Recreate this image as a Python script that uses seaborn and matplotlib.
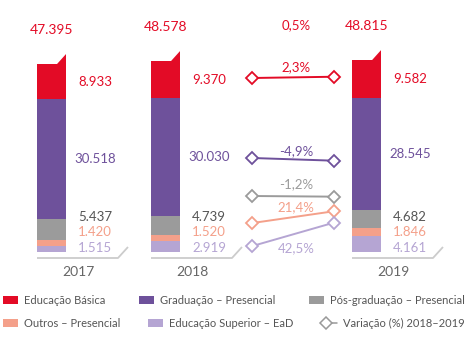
import matplotlib
matplotlib.use("Agg")
import matplotlib.pyplot as plt
import seaborn as sns
from matplotlib.patches import Patch, Polygon
from matplotlib.lines import Line2D
from matplotlib.legend_handler import HandlerBase

# data (matrículas por nível)
years = ["2017", "2018", "2019"]
basica = [8933, 9370, 9582]
graduacao = [30518, 30030, 28545]
pos_grad = [5437, 4739, 4682]
outros = [1420, 1520, 1846]
ead = [1515, 2919, 4161]
totals = [47395, 48578, 48815]
# variação 2018-2019 (%) in order basica, graduacao, pos, outros, ead
variacao = [2.3, -4.9, -1.2, 21.4, 42.5]
variacao_total = 0.5

names = ["Educação Básica", "Graduação – Presencial", "Pós-graduação – Presencial",
         "Outros – Presencial", "Educação Superior – EaD"]
colors = ["#E30B26", "#6E519B", "#9B9B9B", "#F4A08A", "#B5A5D3"]
text_colors = ["#E30B26", "#6E519B", "#555555", "#F4A08A", "#B5A5D3"]
pct_colors = ["#E30B26", "#6E519B", "#9B9B9B", "#F4A08A", "#B5A5D3"]

sns.set_theme(style="white")
plt.rcParams['font.family'] = ['Lato', 'DejaVu Sans']


def fmt(v):
    return f"{v:,}".replace(",", ".")


def fmt_pct(v):
    return f"{v:.1f}%".replace(".", ",")


# layout: pixel helpers (y=0 sits at pixel row BASE)
BASE = 252
PX = 3.93 / 1000


def py(p):
    return (BASE - p) / PX


# legend handle: diamond on the left, short line to the right
class DiamondHandler(HandlerBase):
    def create_artists(self, legend, orig_handle, xdescent, ydescent,
                       width, height, fontsize, trans):
        y = height / 2 - ydescent
        x0 = -xdescent
        c = orig_handle.get_color()
        line = Line2D([x0 + 3.5, x0 + width], [y, y], color=c, lw=1.1, transform=trans)
        mark = Line2D([x0 + 3.5], [y], marker="D", ms=6, mfc="white", mec=c,
                      mew=1.1, linestyle="none", transform=trans)
        return [line, mark]


fig = plt.figure(figsize=(4.74, 3.62), dpi=100)
ax = fig.add_axes([0, 0, 1, 1])
ax.set_xlim(0, 474)
ax.set_ylim(py(362), py(0))
ax.axis("off")

xpos = [51.5, 165.5, 366.5]
width = 29

stack = [ead, outros, pos_grad, graduacao, basica]
stack_idx = [4, 3, 2, 1, 0]
small_offsets = {4: 4, 3: 20, 2: 35}  # px above baseline for small labels

for i, x in enumerate(xpos):
    bottom = 0
    for vals, k in zip(stack, stack_idx):
        v = vals[i]
        ax.bar(x, v, width=width, bottom=bottom, color=colors[k], linewidth=0)
        if k in small_offsets:
            ly = py(BASE - small_offsets[k])
        else:
            ly = bottom + v / 2
        ax.text(x + width / 2 + 29, ly, fmt(v), color=text_colors[k],
                fontsize=9.5, ha="center", va="center")
        bottom += v
    right = x + width / 2
    ax.add_patch(Polygon([(right - 9, bottom), (right, bottom + 10 / PX), (right, bottom)],
                         closed=True, color=colors[0], linewidth=0))
    ax.text(x, bottom + 34 / PX, fmt(totals[i]), color=colors[0],
            fontsize=10, ha="center", va="center")
    left = x - width / 2
    ax.plot([left, left + 81, left + 91], [py(258), py(258), py(247)],
            color="#CCCCCC", lw=1.3, solid_capstyle="butt")
    ax.text(left + 41, py(272), years[i], color="#666666", fontsize=10,
            ha="center", va="center")

# variation lines 2018 -> 2019
row_px = [78, 158, 196, 223, 246]
label_off = [-10, -8, -12, -10, 14]
x0, x1 = 252.5, 334
for k in range(5):
    yl = row_px[k]
    yr = yl - variacao[k] * 0.55
    ax.plot([x0, x1], [py(yl), py(yr)], color=pct_colors[k], lw=1.4,
            marker="D", ms=6.5, mfc="white", mec=pct_colors[k], mew=1.3)
    ax.text(296, py((yl + yr) / 2 + label_off[k]), fmt_pct(variacao[k]),
            color=pct_colors[k], fontsize=9.5, ha="center", va="center")
ax.text(296, py(25), fmt_pct(variacao_total), color=colors[0],
        fontsize=9.5, ha="center", va="center")

# legend in two rows
row1 = [Patch(facecolor=colors[i], edgecolor="none") for i in range(3)]
row2 = [Patch(facecolor=colors[3], edgecolor="none"),
        Patch(facecolor=colors[4], edgecolor="none"),
        Line2D([0], [0], color="#999999")]
common = dict(frameon=False, fontsize=8, labelcolor="#555555", ncol=3,
              loc="center left", borderpad=0, borderaxespad=0,
              handlelength=1.35, handleheight=0.7, handletextpad=0.55)
fig.legend(row1, names[:3], bbox_to_anchor=(3 / 474, 1 - 300 / 362),
           columnspacing=3.0, **common)
fig.legend(row2, names[3:] + ["Variação (%) 2018–2019"],
           bbox_to_anchor=(3 / 474, 1 - 323 / 362), columnspacing=2.5,
           handler_map={Line2D: DiamondHandler()}, **common)

fig.savefig("out.png", dpi=100)
